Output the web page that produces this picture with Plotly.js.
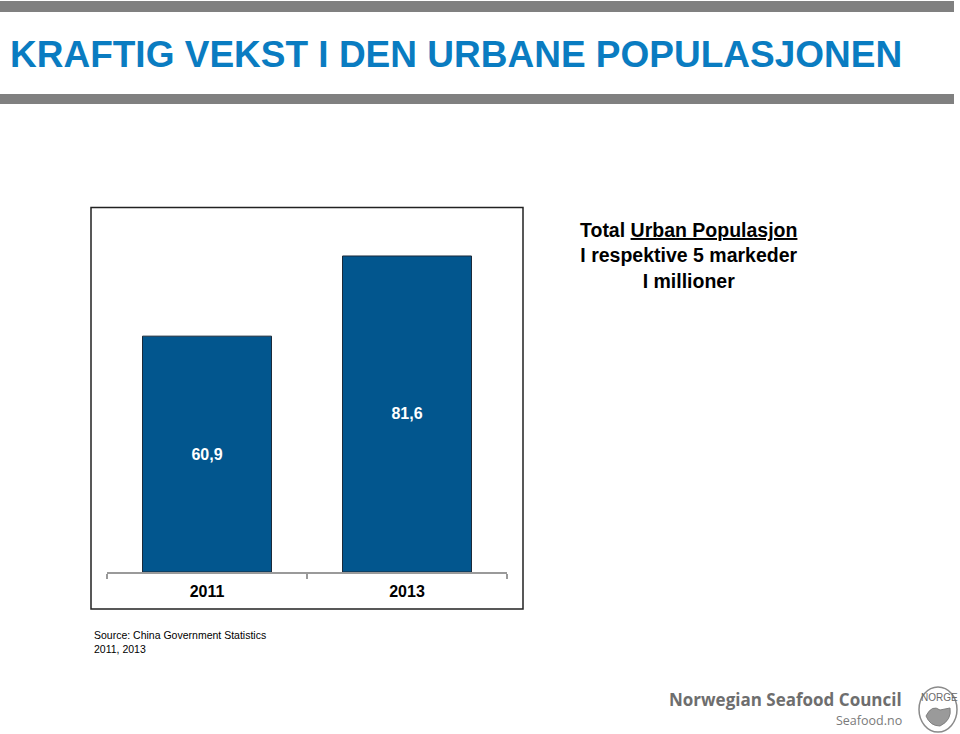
<!DOCTYPE html>
<html>
<head>
<meta charset="utf-8">
<script src="https://cdn.plot.ly/plotly-3.0.1.min.js"></script>
<style>
html,body{margin:0;padding:0;background:#fff;}
#chart{width:960px;height:734px;}
</style>
</head>
<body>
<div id="chart"></div>
<script>
const categories = ['2011', '2013'];
const values = [60.9, 81.6];
const titleText = 'KRAFTIG VEKST I DEN URBANE POPULASJONEN';
const legendLines = ['Total <u>Urban Populasjon</u>', 'I respektive 5 markeder', 'I millioner'];
const sourceLines = ['Source: China Government Statistics', '2011, 2013'];

const W = 960, H = 734;
const L = 107, R = 507, T = 207, B = 572;
const px = x => (x - L) / (R - L);
const py = y => (B - y) / (B - T);

const trace = {
  type: 'bar',
  x: categories,
  y: values,
  marker: {color: '#02568e', line: {color: '#1b2a3a', width: 1}},
  texttemplate: '%{y:.1f}',
  textposition: 'inside',
  insidetextanchor: 'middle',
  textfont: {color: '#ffffff', size: 16, family: 'Liberation Sans, Arial, sans-serif', weight: 'bold'},
  hoverinfo: 'none',
  cliponaxis: false
};

const annotations = [
  {text: '<b>' + titleText + '</b>', xref: 'paper', yref: 'paper', x: px(8), y: py(55),
   xanchor: 'left', yanchor: 'middle', showarrow: false,
   font: {family: 'Liberation Sans Narrow, Arial Narrow, Liberation Sans, sans-serif', size: 37, color: '#0a7cc1'}},
  {text: '<b>' + legendLines.join('<br>') + '</b>', xref: 'paper', yref: 'paper', x: px(689), y: py(255.5),
   xanchor: 'center', yanchor: 'middle', align: 'center', showarrow: false,
   font: {family: 'Liberation Sans, Arial, sans-serif', size: 19.5, color: '#000000'}},
  {text: sourceLines.join('<br>'), xref: 'paper', yref: 'paper', x: px(92), y: py(642),
   xanchor: 'left', yanchor: 'middle', align: 'left', showarrow: false,
   font: {family: 'Liberation Sans, Arial, sans-serif', size: 10.5, color: '#000000'}},
  {text: '<b>Norwegian Seafood Council</b>', xref: 'paper', yref: 'paper', x: px(904), y: py(699),
   xanchor: 'right', yanchor: 'middle', showarrow: false,
   font: {family: 'Open Sans, Liberation Sans, sans-serif', size: 17, color: '#6e6e6e'}},
  {text: 'Seafood.no', xref: 'paper', yref: 'paper', x: px(904), y: py(720),
   xanchor: 'right', yanchor: 'middle', showarrow: false,
   font: {family: 'Open Sans, Liberation Sans, sans-serif', size: 12.5, color: '#7a7a7a'}},
  {text: 'NORGE', xref: 'paper', yref: 'paper', x: px(939), y: py(697),
   xanchor: 'center', yanchor: 'middle', showarrow: false,
   font: {family: 'Liberation Sans Narrow, Liberation Sans, sans-serif', size: 10, color: '#6a6a6a'}}
];

const shapes = [
  {type: 'rect', xref: 'paper', yref: 'paper', x0: px(0), x1: px(954), y0: py(1), y1: py(12),
   fillcolor: '#808080', line: {width: 0}, layer: 'below'},
  {type: 'rect', xref: 'paper', yref: 'paper', x0: px(0), x1: px(954), y0: py(94), y1: py(104),
   fillcolor: '#808080', line: {width: 0}, layer: 'below'},
  {type: 'rect', xref: 'paper', yref: 'paper', x0: px(91), x1: px(523), y0: py(207.5), y1: py(609),
   fillcolor: 'rgba(0,0,0,0)', line: {color: '#222222', width: 1.5}, layer: 'above'},
  {type: 'circle', xref: 'paper', yref: 'paper', x0: px(919), x1: px(957), y0: py(687), y1: py(732),
   fillcolor: 'rgba(0,0,0,0)', line: {color: '#8a8a8a', width: 1.5}},
  {type: 'path', xref: 'paper', yref: 'paper',
   path: 'M ' + px(926) + ',' + py(716) + ' Q ' + px(932) + ',' + py(704) + ' ' + px(940) + ',' + py(710) +
         ' L ' + px(950) + ',' + py(708) + ' Q ' + px(952) + ',' + py(720) + ' ' + px(940) + ',' + py(726) +
         ' Q ' + px(930) + ',' + py(726) + ' ' + px(926) + ',' + py(716) + ' Z',
   fillcolor: '#9a9a9a', line: {color: '#808080', width: 1}}
];

const layout = {
  width: W, height: H,
  margin: {l: L, r: W - R, t: T, b: H - B, pad: 0},
  paper_bgcolor: '#ffffff', plot_bgcolor: '#ffffff',
  separators: ',.',
  showlegend: false,
  bargap: 0.355,
  xaxis: {
    type: 'category', showgrid: false, zeroline: false,
    showline: true, linecolor: '#9a9a9a', linewidth: 1.5,
    ticks: 'outside', tickson: 'boundaries', ticklen: 5, tickcolor: '#9a9a9a', tickwidth: 1.5,
    ticklabelstandoff: 4,
    tickfont: {family: 'Liberation Sans, Arial, sans-serif', size: 16, color: '#000000', weight: 'bold'},
    fixedrange: true
  },
  yaxis: {range: [0, 94.25], visible: false, showgrid: false, zeroline: false, fixedrange: true},
  annotations: annotations,
  shapes: shapes
};

Plotly.newPlot('chart', [trace], layout, {displayModeBar: false, staticPlot: true});
</script>
</body>
</html>
